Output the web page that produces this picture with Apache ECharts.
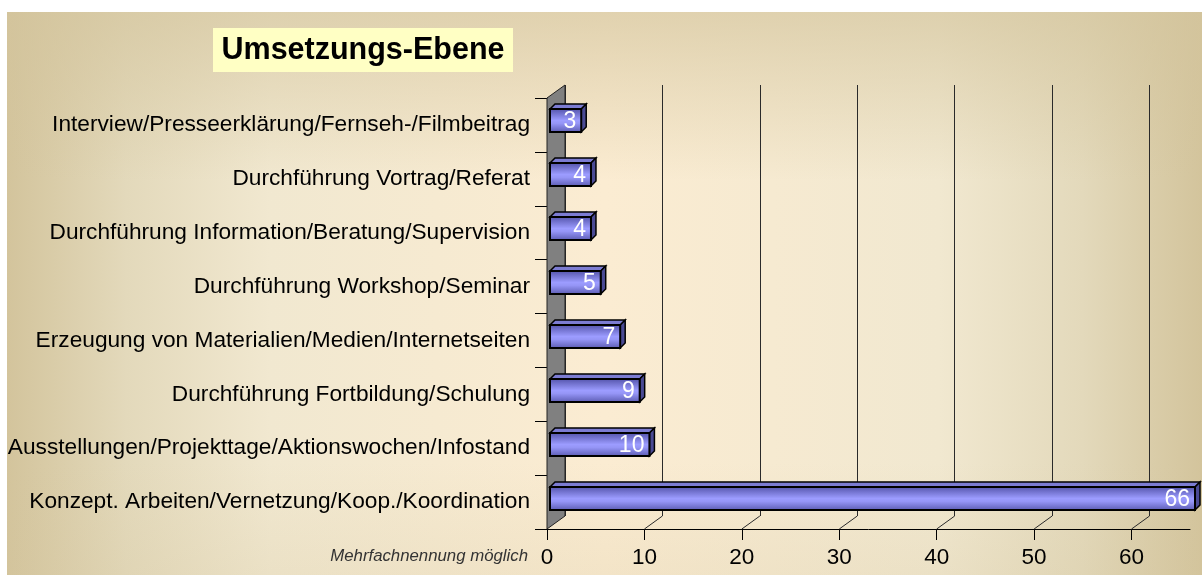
<!DOCTYPE html>
<html>
<head>
<meta charset="utf-8">
<title>Umsetzungs-Ebene</title>
<script src="https://cdn.jsdelivr.net/npm/echarts@6/dist/echarts.min.js"></script>
<style>
  html, body { margin: 0; padding: 0; background: #fff; }
  #chart { width: 1202px; height: 575px; }
</style>
</head>
<body>
<div id="chart"></div>
<script>
// data, top to bottom as in the picture
const categories = [
  "Interview/Presseerklärung/Fernseh-/Filmbeitrag",
  "Durchführung Vortrag/Referat",
  "Durchführung Information/Beratung/Supervision",
  "Durchführung Workshop/Seminar",
  "Erzeugung von Materialien/Medien/Internetseiten",
  "Durchführung Fortbildung/Schulung",
  "Ausstellungen/Projekttage/Aktionswochen/Infostand",
  "Konzept. Arbeiten/Vernetzung/Koop./Koordination"
];
const values = [3, 4, 4, 5, 7, 9, 10, 66];
const xTicks = [0, 10, 20, 30, 40, 50, 60];
const titleText = "Umsetzungs-Ebene";
const noteText = "Mehrfachnennung möglich";

const font = "'Liberation Sans', Arial, sans-serif";
// front plane and back wall of the 3d plot
const front = { left: 547, top: 98, width: 643, height: 431 };
const depthX = 18, depthY = -13;

let myChart = echarts.init(document.getElementById("chart"));

const barFace = new echarts.graphic.LinearGradient(0, 0, 0, 1, [
  { offset: 0, color: "#5050a6" },
  { offset: 0.5, color: "#9c9cff" },
  { offset: 0.62, color: "#9595f6" },
  { offset: 1, color: "#5858ae" }
]);

let option = {
  animation: false,
  grid: [
    {
      left: front.left, top: front.top, width: front.width, height: front.height,
      outerBoundsMode: "none"
    },
    {
      left: front.left + depthX, top: front.top + depthY, width: front.width, height: front.height,
      outerBoundsMode: "none"
    }
  ],
  xAxis: [
    {
      type: "value",
      gridIndex: 0,
      min: 0,
      max: 66,
      interval: 10,
      axisLine: { show: true, lineStyle: { color: "#000", width: 1 } },
      axisTick: { show: true, length: 11, customValues: xTicks, lineStyle: { color: "#000" } },
      axisLabel: { customValues: xTicks, fontSize: 22.5, fontFamily: font, color: "#000", margin: 17 },
      splitLine: { show: false }
    },
    {
      type: "value",
      gridIndex: 1,
      min: 0,
      max: 66,
      interval: 10,
      axisLine: { show: false },
      axisTick: { show: false },
      axisLabel: { show: false },
      splitLine: { show: true, lineStyle: { color: "#2a2a2a", width: 1 } }
    }
  ],
  yAxis: [
    {
      type: "category",
      gridIndex: 0,
      inverse: true,
      data: categories,
      axisLine: { show: true, lineStyle: { color: "#000", width: 1 } },
      axisTick: { show: true, length: 12, lineStyle: { color: "#000" } },
      axisLabel: { fontSize: 22.7, fontFamily: font, color: "#000", margin: 17 }
    },
    {
      type: "category",
      gridIndex: 1,
      inverse: true,
      data: categories,
      show: false
    }
  ],
  series: [
    {
      type: "custom",
      xAxisIndex: 0,
      yAxisIndex: 0,
      encode: { x: 0, y: 1 },
      data: values.map((v, i) => [v, i]),
      z: 5,
      renderItem: function (params, api) {
        let val = api.value(0);
        let idx = api.value(1);
        let start = api.coord([0, idx]);
        let end = api.coord([val, idx]);
        let h = Math.round(api.size([0, 1])[1] * 0.43);
        let x = start[0] + 3;
        let y = Math.round(start[1] - 4 - h / 2);
        let w = end[0] - start[0] + 2;
        let d = 5;
        return {
          type: "group",
          children: [
            {
              type: "polygon",
              shape: { points: [[x, y], [x + d, y - d], [x + w + d, y - d], [x + w, y]] },
              style: { fill: "#7c7cd2", stroke: "#000", lineWidth: 1.5 }
            },
            {
              type: "polygon",
              shape: { points: [[x + w, y], [x + w + d, y - d], [x + w + d, y + h - d], [x + w, y + h]] },
              style: { fill: "#4a4a94", stroke: "#000", lineWidth: 1.5 }
            },
            {
              type: "rect",
              shape: { x: x, y: y, width: w, height: h },
              style: { fill: barFace, stroke: "#000", lineWidth: 2 }
            },
            {
              type: "text",
              style: {
                text: String(val),
                x: x + w - 5,
                y: y + h / 2 + 1,
                align: "right",
                verticalAlign: "middle",
                fill: "#fff",
                font: "23px " + font
              }
            }
          ]
        };
      }
    }
  ]
};
myChart.setOption(option);

// background, title box, side wall and floor lines
let frontBottom = front.top + front.height;
let backTop = front.top + depthY;
let backBottom = frontBottom + depthY;
let x0f = myChart.convertToPixel({ xAxisIndex: 0 }, 0);
let x0b = myChart.convertToPixel({ xAxisIndex: 1 }, 0);

let elements = [
  {
    type: "rect",
    silent: true,
    z: -100,
    shape: { x: 7, y: 12, width: 1195, height: 563 },
    style: {
      fill: new echarts.graphic.LinearGradient(0, 0, 1, 0, [
        { offset: 0, color: "#d3c49c" },
        { offset: 0.1, color: "#e3d9bb" },
        { offset: 0.22, color: "#f1e8d0" },
        { offset: 0.5, color: "#fbecd2" },
        { offset: 0.78, color: "#f1e8d0" },
        { offset: 0.9, color: "#e3d9bb" },
        { offset: 1, color: "#d3c49c" }
      ])
    }
  },
  {
    type: "rect",
    silent: true,
    z: -99,
    shape: { x: 7, y: 12, width: 1195, height: 563 },
    style: {
      fill: new echarts.graphic.LinearGradient(0, 0, 0, 1, [
        { offset: 0, color: "rgba(211,196,156,0.65)" },
        { offset: 0.3, color: "rgba(211,196,156,0)" },
        { offset: 0.8, color: "rgba(211,196,156,0)" },
        { offset: 1, color: "rgba(211,196,156,0.2)" }
      ])
    }
  },
  {
    type: "rect",
    silent: true,
    z: 1,
    shape: { x: 213, y: 28, width: 300, height: 44 },
    style: { fill: "#ffffc4" }
  },
  {
    type: "text",
    silent: true,
    z: 2,
    style: {
      text: titleText,
      x: 363,
      y: 51,
      align: "center",
      verticalAlign: "middle",
      fill: "#000",
      font: "bold 30.5px " + font
    }
  },
  {
    type: "text",
    silent: true,
    z: 2,
    style: {
      text: noteText,
      x: x0f - 19,
      y: 556,
      align: "right",
      verticalAlign: "middle",
      fill: "#333",
      font: "italic 16.8px " + font
    }
  },
  {
    type: "polygon",
    silent: true,
    z: 3,
    shape: { points: [[x0f, front.top], [x0b, backTop], [x0b, backBottom], [x0f, frontBottom]] },
    style: { fill: "#808080", stroke: "#222", lineWidth: 1 }
  }
];
xTicks.forEach(v => {
  if (v === 0) return;
  let xf = myChart.convertToPixel({ xAxisIndex: 0 }, v);
  let xb = myChart.convertToPixel({ xAxisIndex: 1 }, v);
  elements.push({
    type: "line",
    silent: true,
    z: 1,
    shape: { x1: xb, y1: backBottom, x2: xf, y2: frontBottom },
    style: { stroke: "#2a2a2a", lineWidth: 1 }
  });
});
myChart.setOption({ graphic: { elements: elements } });
</script>
</body>
</html>
